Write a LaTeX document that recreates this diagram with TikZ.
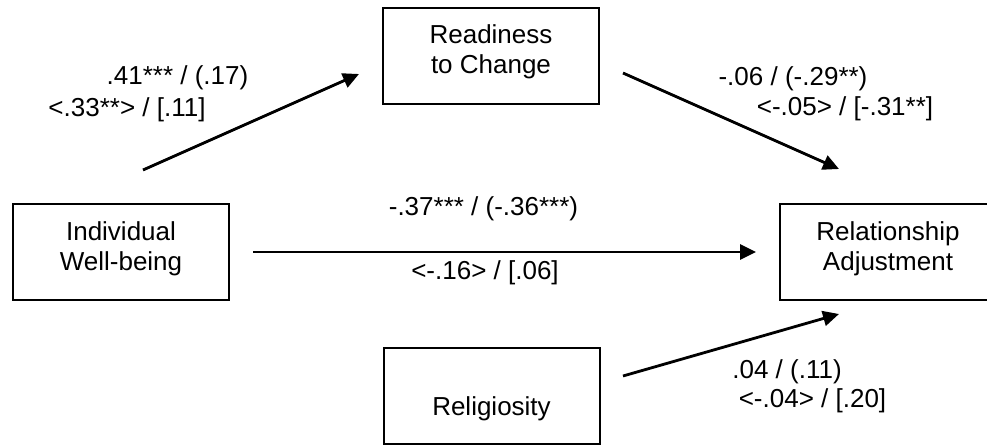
\documentclass[tikz,border=0pt]{standalone}
\usepackage{fontspec}
\setmainfont{Liberation Sans}
\usetikzlibrary{arrows.meta}
\tikzset{
  box/.style={draw, line width=1pt, minimum width=108pt, minimum height=48pt, inner sep=0pt},
  txt/.style={align=center, font=\fontsize{13}{15}\selectfont, inner sep=0pt},
  coef/.style={anchor=base, font=\fontsize{13}{15}\selectfont, inner sep=0pt},
  arr/.style={-{Triangle[length=8pt,width=7.5pt]}, line width=1.4pt},
}
\begin{document}
\begin{tikzpicture}[x=0.5pt,y=-0.5pt]
\useasboundingbox (0,0) rectangle (987,445);

% Variables
\node[box] (ready) at (491,55.5) {};
\node[box] (indiv) at (121,252) {};
\node[box] (relat) at (888,252) {};
\node[box] (relig) at (491.5,396) {};
\node[txt] (ready-t) at (491,51.5) {Readiness\\to Change};
\node[txt] (indiv-t) at (121,248.5) {Individual\\Well-being};
\node[txt] (relat-t) at (888,248.5) {Relationship\\Adjustment};
\node[txt,anchor=base] (relig-t) at (491.5,415) {Religiosity};

% Arrow ends
\coordinate (iw-out) at (143,170);
\coordinate (rc-in) at (359,74);
\coordinate (rc-out) at (623,73);
\coordinate (ra-in1) at (839,169);
\coordinate (rg-out) at (623,376);
\coordinate (ra-in2) at (839,314);

% Paths
\draw[arr] (iw-out) -- (rc-in);
\draw[arr] (rc-out) -- (ra-in1);
\draw[arr, shorten <=11.5pt, shorten >=11.5pt] (indiv) -- (relat);
\draw[arr] (rg-out) -- (ra-in2);

% Coefficients
\node[coef] (c-a1) at (177.5,84) {.41*** / (.17)};
\node[coef] (c-a2) at (127,116) {<.33**> / [.11]};
\node[coef] (c-b1) at (793,85) {-.06 / (-.29**)};
\node[coef] (c-b2) at (845,115) {<-.05> / [-.31**]};
\node[coef] (c-c1) at (483.5,215) {-.37*** / (-.36***)};
\node[coef] (c-c2) at (485,279) {<-.16> / [.06]};
\node[coef] (c-d1) at (787,378) {.04 / (.11)};
\node[coef] (c-d2) at (812.5,407) {<-.04> / [.20]};

\end{tikzpicture}
\end{document}
